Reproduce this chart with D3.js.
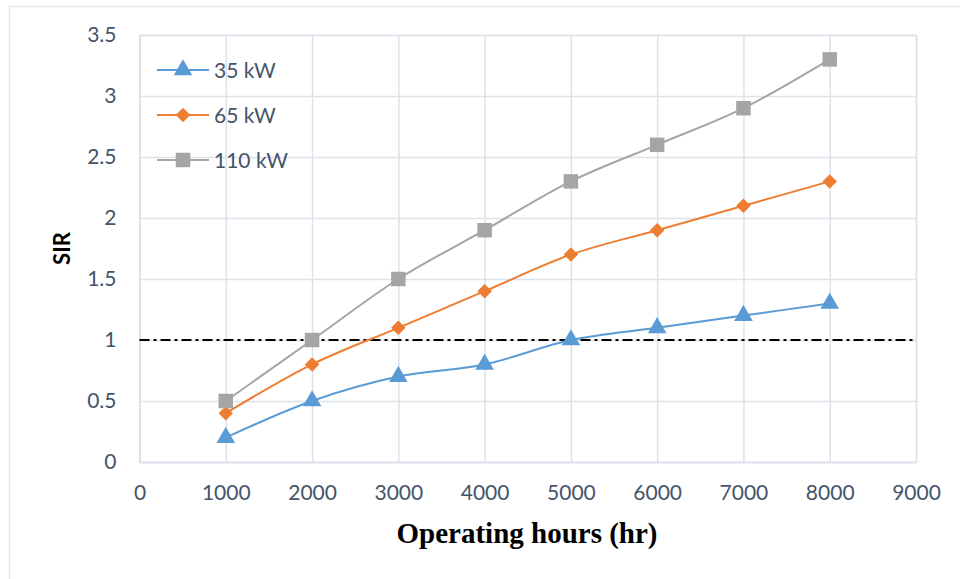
<!DOCTYPE html>
<html>
<head>
<meta charset="utf-8">
<script src="https://cdn.jsdelivr.net/npm/d3@7/dist/d3.min.js"></script>
<style>
  html, body { margin: 0; padding: 0; background: #fff; }
  svg { display: block; }
</style>
</head>
<body>
<svg id="chart" width="960" height="579"></svg>
<script>
// Operating hours on the x axis
const hours = [1000, 2000, 3000, 4000, 5000, 6000, 7000, 8000];
// SIR for each unit size
const sir35 = [0.2, 0.5, 0.7, 0.8, 1.0, 1.1, 1.2, 1.3];
const sir65 = [0.4, 0.8, 1.1, 1.4, 1.7, 1.9, 2.1, 2.3];
const sir110 = [0.5, 1.0, 1.5, 1.9, 2.3, 2.6, 2.9, 3.3];
const seriesNames = ["35 kW", "65 kW", "110 kW"];
const xTicks = [0, 1000, 2000, 3000, 4000, 5000, 6000, 7000, 8000, 9000];
const yTicks = [0, 0.5, 1, 1.5, 2, 2.5, 3, 3.5];
const threshold = 1;

const series = [
  { name: seriesNames[0], values: sir35, color: "#5b9bd5", symbol: d3.symbolTriangle, size: 150, rotate: 0 },
  { name: seriesNames[1], values: sir65, color: "#ed7d31", symbol: d3.symbolSquare, size: 105, rotate: 45 },
  { name: seriesNames[2], values: sir110, color: "#a5a5a5", symbol: d3.symbolSquare, size: 210, rotate: 0 }
];

const svg = d3.select("#chart");
const plot = { left: 139.5, right: 916, top: 35, bottom: 462 };

const x = d3.scaleLinear().domain([0, 9000]).range([plot.left, plot.right]);
const y = d3.scaleLinear().domain([0, 3.5]).range([plot.bottom, plot.top]);

// outer chart frame
svg.append("rect")
  .attr("x", 9.5).attr("y", 6.5).attr("width", 960).attr("height", 600)
  .attr("fill", "none").attr("stroke", "#e3e6ec").attr("stroke-width", 1.5);

const gridColor = "#dde2ea";
const labelColor = "#44546a";
const tickFont = "Lato, 'Open Sans', sans-serif";
const tickSize = "21px";

// horizontal gridlines + y labels
const yAxis = d3.axisLeft(y).tickValues(yTicks).tickSize(-(plot.right - plot.left)).tickPadding(23)
  .tickFormat(d => d3.format("")(d));
const gy = svg.append("g").attr("transform", `translate(${plot.left},0)`).call(yAxis);
gy.select(".domain").attr("stroke", gridColor).attr("stroke-width", 1.5);
gy.selectAll(".tick line").attr("stroke", gridColor).attr("stroke-width", 1.5);
gy.selectAll(".tick text").attr("fill", labelColor).style("font-family", tickFont).style("font-size", tickSize);

// vertical gridlines + x labels
const xAxis = d3.axisBottom(x).tickValues(xTicks).tickSize(-(plot.bottom - plot.top)).tickPadding(23)
  .tickFormat(d3.format("d"));
const gx = svg.append("g").attr("transform", `translate(0,${plot.bottom})`).call(xAxis);
gx.select(".domain").attr("stroke", gridColor).attr("stroke-width", 1.5);
gx.selectAll(".tick line").attr("stroke", gridColor).attr("stroke-width", 1.5);
gx.selectAll(".tick text").attr("fill", labelColor).style("font-family", tickFont).style("font-size", tickSize);

// SIR = 1 reference line
svg.append("line")
  .attr("x1", x(0)).attr("x2", x(9000))
  .attr("y1", y(threshold)).attr("y2", y(threshold))
  .attr("stroke", "#000").attr("stroke-width", 2)
  .attr("stroke-dasharray", "10,4,3,4");

// series lines and markers
const line = d3.line()
  .x((d, i) => x(hours[i]))
  .y(d => y(d))
  .curve(d3.curveCatmullRom.alpha(0));

series.forEach(s => {
  svg.append("path")
    .datum(s.values)
    .attr("d", line)
    .attr("fill", "none")
    .attr("stroke", s.color)
    .attr("stroke-width", 2);
  svg.append("g").selectAll("path")
    .data(s.values)
    .join("path")
    .attr("transform", (d, i) => `translate(${x(hours[i])},${y(d)}) rotate(${s.rotate})`)
    .attr("d", d3.symbol().type(s.symbol).size(s.size))
    .attr("fill", s.color);
});

// legend
const legend = svg.append("g").attr("transform", "translate(157,70)");
series.forEach((s, i) => {
  const row = legend.append("g").attr("transform", `translate(0,${i * 45})`);
  row.append("line").attr("x1", 0).attr("x2", 52).attr("y1", 0).attr("y2", 0)
    .attr("stroke", s.color).attr("stroke-width", 2);
  row.append("path").attr("transform", `translate(26,0) rotate(${s.rotate})`)
    .attr("d", d3.symbol().type(s.symbol).size(s.size)).attr("fill", s.color);
  row.append("text").attr("x", 57).attr("y", 7.5)
    .attr("fill", labelColor).style("font-family", tickFont).style("font-size", tickSize)
    .text(s.name);
});

// axis titles
svg.append("text")
  .attr("transform", `translate(70,${(plot.top + plot.bottom) / 2}) rotate(-90)`)
  .attr("text-anchor", "middle")
  .style("font-family", "Lato, 'Open Sans', sans-serif").style("font-weight", "bold").style("font-size", "22px")
  .attr("fill", "#000")
  .text("SIR");

svg.append("text")
  .attr("x", 527).attr("y", 543)
  .attr("text-anchor", "middle")
  .style("font-family", "'Liberation Serif', 'Times New Roman', serif").style("font-weight", "bold").style("font-size", "29px")
  .attr("fill", "#000")
  .text("Operating hours (hr)");
</script>
</body>
</html>
